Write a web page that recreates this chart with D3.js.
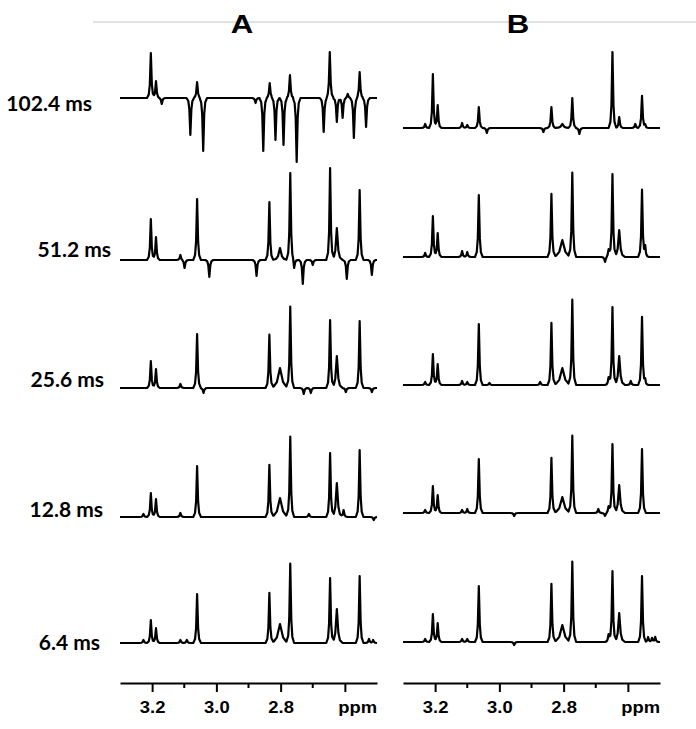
<!DOCTYPE html>
<html>
<head>
<meta charset="utf-8">
<script src="https://cdn.jsdelivr.net/npm/d3@7"></script>
<style>
  body { margin: 0; background: #fff; }
  svg { display: block; }
</style>
</head>
<body>
<div id="chart"></div>
<script>
// mixing times, one row of spectra per time
const mixingTimes = ["102.4 ms", "51.2 ms", "25.6 ms", "12.8 ms", "6.4 ms"];
const panelNames = ["A", "B"];
const ppmTicks = [3.2, 3.0, 2.8, 2.6];
const ppmLabels = ["3.2", "3.0", "2.8", ""];
const minorTicks = [3.1, 2.9, 2.7];

// peaks: [ppm, intensity, linewidth (ppm, optional)]
const a102 = [[3.204, 45], [3.188, 17], [3.170, -6], [3.081, -37], [3.060, 16], [3.041, -53],
  [2.878, -5], [2.854, -53], [2.834, 15], [2.816, -42], [2.791, -47], [2.771, 23], [2.750, -64],
  [2.666, -34], [2.647, 46], [2.625, -24], [2.607, -20], [2.591, 4], [2.572, -40], [2.554, 26], [2.534, -29]];
const a51 = [[3.204, 41], [3.188, 23], [3.112, 5], [3.099, -8], [3.060, 61], [3.022, -17], [2.875, -16],
  [2.835, 58], [2.802, 12, 0.008], [2.770, 87], [2.758, -8], [2.731, -24], [2.700, -5], [2.646, 92],
  [2.625, 32, 0.006], [2.594, -19], [2.554, 70], [2.516, -15]];
const a25 = [[3.204, 27], [3.188, 19], [3.112, 4], [3.060, 54], [3.040, -5], [2.835, 53], [2.802, 20, 0.012],
  [2.770, 81], [2.728, -6], [2.706, -5], [2.646, 68], [2.625, 32, 0.006], [2.597, -4], [2.554, 67], [2.516, -4]];
const a12 = [[3.227, 3], [3.204, 24], [3.188, 18], [3.112, 4], [3.060, 51], [2.835, 52], [2.802, 19, 0.012],
  [2.770, 80], [2.712, 3], [2.646, 64], [2.625, 34, 0.006], [2.604, 7], [2.554, 67], [2.510, -3]];
const a6 = [[3.227, 3], [3.204, 23], [3.188, 15], [3.112, 3], [3.092, 3], [3.060, 49], [2.835, 50],
  [2.802, 19, 0.012], [2.770, 79], [2.646, 65], [2.625, 34, 0.006], [2.554, 67], [2.525, 4], [2.512, 3]];

const b102 = [[3.231, 4], [3.207, 54], [3.192, 23], [3.116, 5], [3.100, 3], [3.064, 21], [3.039, -5],
  [2.863, -4], [2.838, 21], [2.804, 4, 0.008], [2.773, 30], [2.751, -6], [2.648, 76], [2.627, 11],
  [2.577, 4], [2.556, 32], [2.546, 3]];
const b51 = [[3.231, 4], [3.207, 41], [3.192, 24], [3.116, 6], [3.100, 5], [3.064, 62], [2.838, 63],
  [2.804, 17, 0.012], [2.773, 84], [2.671, -5], [2.660, 8], [2.648, 83], [2.627, 27, 0.006], [2.556, 67], [2.546, 10]];
const b25 = [[3.231, 3], [3.207, 31], [3.192, 21], [3.116, 4], [3.100, 3], [3.064, 61], [3.031, 2], [2.873, 3],
  [2.838, 62], [2.804, 17, 0.012], [2.773, 85], [2.660, 8], [2.648, 78], [2.627, 29, 0.006], [2.591, 4],
  [2.556, 68], [2.546, 5]];
const b12 = [[3.231, 3], [3.207, 27], [3.192, 18], [3.116, 3], [3.100, 4], [3.064, 54], [2.954, -3], [2.838, 55],
  [2.804, 16, 0.012], [2.773, 77], [2.692, 4], [2.671, -3], [2.660, 7], [2.648, 69], [2.627, 28, 0.006], [2.556, 64]];
const b6 = [[3.231, 3], [3.207, 28], [3.192, 19], [3.116, 3], [3.100, 3], [3.064, 56], [2.954, -3], [2.838, 58],
  [2.804, 17, 0.012], [2.773, 80], [2.660, 8], [2.648, 71], [2.627, 29, 0.006], [2.556, 66], [2.537, 5],
  [2.525, 4], [2.515, 5]];

const spectraA = [a102, a51, a25, a12, a6];
const spectraB = [b102, b51, b25, b12, b6];

// layout
const width = 696, height = 729;
const ppmDomain = [3.3, 2.5];
const panels = [
  { name: panelNames[0], spectra: spectraA, x0: 120, x1: 377, baselines: [98, 260, 388, 517, 643], titleX: 242 },
  { name: panelNames[1], spectra: spectraB, x0: 403, x1: 660, baselines: [128, 257, 385, 513, 642], titleX: 518 }
];
const axisY = 683;
const labelEnds = [92, 111, 104, 103, 100];
const labelBase = [111, 257, 387, 517, 650];
const defaultWidth = 0.004;

// peak outline, offsets in linewidths
const shape = [[-3, 0], [-1.6, 0.08], [-0.8, 0.3], [0, 1], [0.8, 0.3], [1.6, 0.08], [3, 0]];

function shapeAt(t) {
  if (t <= shape[0][0] || t >= shape[shape.length - 1][0]) return 0;
  for (let i = 1; i < shape.length; i++) {
    if (t <= shape[i][0]) {
      const a = shape[i - 1], b = shape[i];
      return a[1] + (b[1] - a[1]) * (t - a[0]) / (b[0] - a[0]);
    }
  }
  return 0;
}

function tracePoints(peaks) {
  let ppms = [ppmDomain[0], ppmDomain[1]];
  peaks.forEach(p => {
    const w = p[2] || defaultWidth;
    shape.forEach(s => ppms.push(p[0] + s[0] * w));
  });
  ppms = ppms.filter(v => v <= ppmDomain[0] && v >= ppmDomain[1]).sort((a, b) => b - a);
  return ppms.map(v => {
    let sum = 0;
    peaks.forEach(p => {
      const w = p[2] || defaultWidth;
      sum += p[1] * shapeAt((v - p[0]) / w);
    });
    return [v, sum];
  });
}

const svg = d3.select("#chart").append("svg")
  .attr("width", width)
  .attr("height", height);

// top rule
svg.append("line")
  .attr("x1", 93).attr("x2", 696)
  .attr("y1", 22).attr("y2", 22)
  .attr("stroke", "#c4c4c4")
  .attr("stroke-width", 1);

panels.forEach(panel => {
  const x = d3.scaleLinear().domain(ppmDomain).range([panel.x0, panel.x1]);

  svg.append("text")
    .attr("transform", `translate(${panel.titleX},33) scale(1.2,1)`)
    .attr("text-anchor", "middle")
    .attr("font-family", "Liberation Sans, Arial, sans-serif")
    .attr("font-weight", "bold")
    .attr("font-size", 26)
    .text(panel.name);

  panel.spectra.forEach((peaks, i) => {
    const base = panel.baselines[i];
    const y = d3.scaleLinear().domain([0, 100]).range([base, base - 100]);
    const line = d3.line().x(d => x(d[0])).y(d => y(d[1]));
    svg.append("path")
      .datum(tracePoints(peaks))
      .attr("d", line)
      .attr("fill", "none")
      .attr("stroke", "#000")
      .attr("stroke-width", 2.2)
      .attr("stroke-linejoin", "round");
  });

  const g = svg.append("g").attr("transform", `translate(0,${axisY})`);
  g.call(d3.axisBottom(x)
    .tickValues(ppmTicks)
    .tickFormat((d, i) => ppmLabels[i])
    .tickSize(9)
    .tickSizeOuter(0));
  g.selectAll(".minor")
    .data(minorTicks)
    .join("line")
    .attr("class", "minor")
    .attr("x1", d => x(d)).attr("x2", d => x(d))
    .attr("y1", 0).attr("y2", 5)
    .attr("stroke", "#000")
    .attr("stroke-width", 2);
  g.select(".domain").attr("stroke-width", 2.2);
  g.selectAll(".tick line").attr("stroke-width", 2);
  g.selectAll(".tick text")
    .attr("y", 0)
    .attr("dy", 0)
    .attr("transform", d => `translate(0,30) scale(1.15,1)`)
    .attr("x", 0)
    .attr("font-family", "Liberation Sans, Arial, sans-serif")
    .attr("font-weight", "bold")
    .attr("font-size", 16)
    .attr("fill", "#000");

  svg.append("text")
    .attr("transform", `translate(${panel.x1},${axisY + 30}) scale(1.15,1)`)
    .attr("text-anchor", "end")
    .attr("font-family", "Liberation Sans, Arial, sans-serif")
    .attr("font-weight", "bold")
    .attr("font-size", 16)
    .text("ppm");
});

// row labels
svg.selectAll(".row-label")
  .data(mixingTimes)
  .join("text")
  .attr("class", "row-label")
  .attr("x", (d, i) => labelEnds[i])
  .attr("y", (d, i) => labelBase[i])
  .attr("text-anchor", "end")
  .attr("font-family", "Lato, sans-serif")
  .attr("font-weight", "bold")
  .attr("font-size", 21)
  .attr("fill", "#000")
  .text(d => d);
</script>
</body>
</html>
